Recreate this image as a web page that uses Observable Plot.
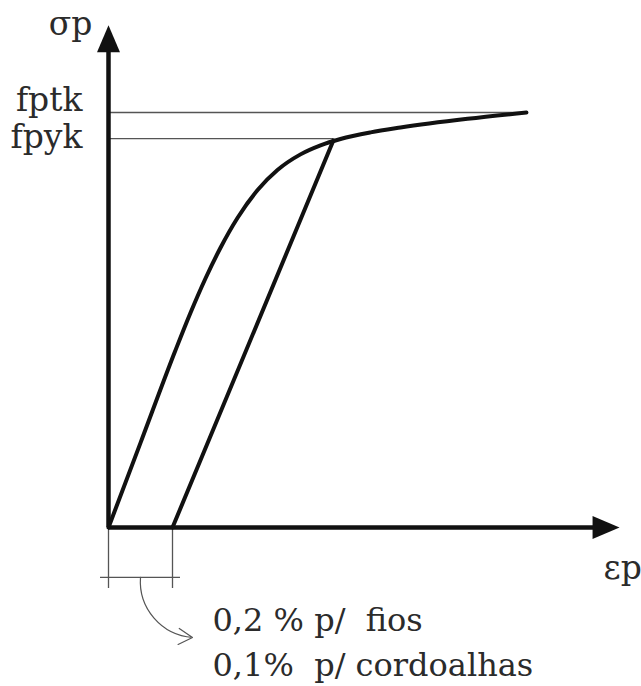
<!DOCTYPE html>
<html>
<head>
<meta charset="utf-8">
<script src="https://cdn.jsdelivr.net/npm/d3@7"></script>
<script src="https://cdn.jsdelivr.net/npm/@observablehq/plot@0.6"></script>
<style>
  html, body { margin: 0; padding: 0; background: #fff; }
  svg text { white-space: pre; }
</style>
</head>
<body>
<div id="chart"></div>
<script>
// Stress–strain curve of prestressing steel (values in relative units: fptk = 1)
const curveEps   = [0, 0.100, 0.209, 0.256, 0.303, 0.350, 0.403, 0.466, 0.528, 0.600, 0.6625, 0.725, 0.819, 0.9125, 1.122, 1.306];
const curveSigma = [0, 0.204, 0.4265, 0.5169, 0.6000, 0.6741, 0.7458, 0.8133, 0.8614, 0.8991, 0.9208, 0.9362, 0.9521, 0.9637, 0.9847, 1.000];

// offset (parallel) line: residual strain 0.2 %
const offsetEps   = [0.2, 0.703];
const offsetSigma = [0, 0.933];

// characteristic strengths
const levelNames  = ["fptk", "fpyk"];
const levelValues = [1.0, 0.937];
const levelEnds   = [1.306, 0.703];   // strain where each reference line ends

// axis extents (arrow tips)
const epsMax = 1.597;
const sigmaMax = 1.21;

// dimension of the 0.2 % offset below the axis
const dimEps = [0, 0.2];
const dimBottom = -0.147;
const dimLevel = -0.120;
const dimOverhang = 0.025;

// curved leader arrow to the note
const leaderStart = {eps: 0.1, sigma: -0.120};
const leaderEnd   = {eps: 0.2625, sigma: -0.265};
const noteLines = ["0,2 % p/  fios", "0,1%  p/ cordoalhas"];

const axisLabels = ["σp", "εp"];

const curve = curveEps.map((e, i) => ({eps: e, sigma: curveSigma[i]}));
const offset = offsetEps.map((e, i) => ({eps: e, sigma: offsetSigma[i]}));
const levels = levelNames.map((n, i) => ({name: n, sigma: levelValues[i], end: levelEnds[i]}));

const head = {
  draw(ctx) {
    ctx.moveTo(0, 0);
    ctx.lineTo(11.5, 27);
    ctx.lineTo(-11.5, 27);
    ctx.closePath();
  }
};

const font = "DejaVu Serif";
const ink = "#111";
const thin = "#555";
const textInk = "#2b2b2b";

const chart = Plot.plot({
  width: 641,
  height: 686,
  margin: 0,
  x: {domain: [0, 1.5], range: [108, 588], axis: null},
  y: {domain: [0, 1.2], range: [527, 29], axis: null},
  style: {fontFamily: font, background: "#fff"},
  marks: [
    // reference horizontal lines
    Plot.ruleY(levels, {y: "sigma", x1: 0, x2: "end", stroke: thin, strokeWidth: 1.3}),
    // dimension lines
    Plot.ruleX(dimEps, {x: d => d, y1: 0, y2: dimBottom, stroke: thin, strokeWidth: 1.3}),
    Plot.ruleY([dimLevel], {y: d => d, x1: dimEps[0] - dimOverhang, x2: dimEps[1] + dimOverhang, stroke: thin, strokeWidth: 1.3}),
    // leader arrow
    Plot.arrow([{a: leaderStart, b: leaderEnd}], {
      x1: d => d.a.eps, y1: d => d.a.sigma, x2: d => d.b.eps, y2: d => d.b.sigma,
      bend: -45, headLength: 20, headAngle: 60, stroke: thin, strokeWidth: 1.2
    }),
    // axes
    Plot.ruleY([0], {x1: 0, x2: epsMax - 0.05, stroke: ink, strokeWidth: 4.5}),
    Plot.ruleX([0], {y1: 0, y2: sigmaMax - 0.04, stroke: ink, strokeWidth: 4.5}),
    Plot.dot([{eps: 0, sigma: sigmaMax}], {x: "eps", y: "sigma", symbol: head, fill: ink, stroke: null, r: 5}),
    Plot.dot([{eps: epsMax, sigma: 0}], {x: "eps", y: "sigma", symbol: head, fill: ink, stroke: null, r: 5, rotate: 90}),
    // curves
    Plot.line(curve, {x: "eps", y: "sigma", curve: "monotone-x", stroke: ink, strokeWidth: 4, strokeLinejoin: "round", strokeLinecap: "round"}),
    Plot.line(offset, {x: "eps", y: "sigma", stroke: ink, strokeWidth: 4, strokeLinecap: "round"}),
    // labels
    Plot.text(levels.slice(0, 1), {x: 0, y: "sigma", text: "name", textAnchor: "end", lineAnchor: "bottom", dx: -26, dy: -2, fontSize: 33, fontFamily: font, fill: textInk}),
    Plot.text(levels.slice(1), {x: 0, y: "sigma", text: "name", textAnchor: "end", lineAnchor: "bottom", dx: -26, dy: 9, fontSize: 33, fontFamily: font, fill: textInk}),
    Plot.text([axisLabels[0]], {x: 0, y: sigmaMax, text: d => d, textAnchor: "end", lineAnchor: "bottom", dx: -16, dy: 10, fontSize: 33, fontFamily: font, fill: textInk}),
    Plot.text([axisLabels[1]], {x: epsMax, y: 0, text: d => d, textAnchor: "start", lineAnchor: "bottom", dx: -16, dy: 51, fontSize: 33, fontFamily: font, fill: textInk}),
    Plot.text([noteLines.join("\n")], {x: leaderEnd.eps, y: leaderEnd.sigma, text: d => d, textAnchor: "start", lineAnchor: "top", lineHeight: 1.4, dx: 20, dy: -38, fontSize: 32, fontFamily: font, fill: textInk})
  ]
});

document.getElementById("chart").appendChild(chart);
</script>
</body>
</html>
